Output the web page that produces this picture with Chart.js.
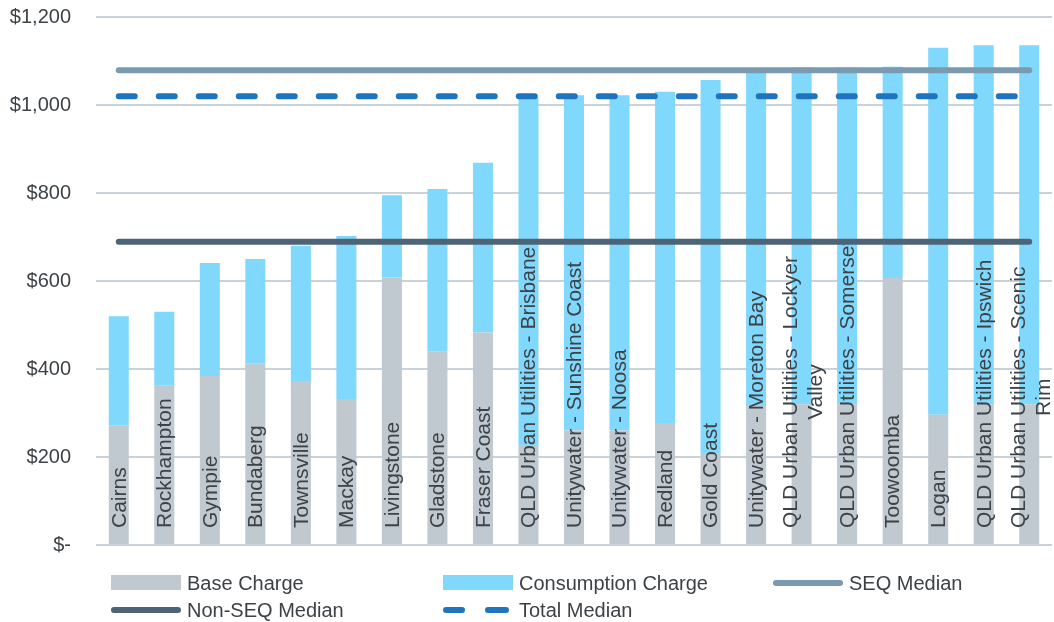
<!DOCTYPE html>
<html>
<head>
<meta charset="utf-8">
<script src="https://cdn.jsdelivr.net/npm/chart.js@4.4.1/dist/chart.umd.min.js"></script>
<style>
  html, body { margin: 0; padding: 0; background: #fff; }
  #wrap { position: relative; width: 1054px; height: 622px; }
  #legend { position: absolute; left: 0; top: 0; width: 1054px; height: 622px; pointer-events: none;
            font-family: "Liberation Sans", Arial, sans-serif; font-size: 20px; color: #3d4247; }
  .item { position: absolute; height: 24px; display: flex; align-items: center; white-space: nowrap; }
  .mk { position: relative; width: 70px; height: 24px; margin-right: 6px; }
  .box { position: absolute; left: 0; top: 4px; width: 70px; height: 15px; }
  .ln { position: absolute; left: 0; top: 9px; height: 6px; border-radius: 3px; }
</style>
</head>
<body>
<div id="wrap">
  <canvas id="chart" width="1054" height="622"></canvas>
  <div id="legend"></div>
</div>
<script>
const categories = [
  'Cairns', 'Rockhampton', 'Gympie', 'Bundaberg', 'Townsville', 'Mackay', 'Livingstone',
  'Gladstone', 'Fraser Coast', 'QLD Urban Utilities - Brisbane', 'Unitywater - Sunshine Coast',
  'Unitywater - Noosa', 'Redland', 'Gold Coast', 'Unitywater - Moreton Bay',
  ['QLD Urban Utilities - Lockyer', 'Valley'], 'QLD Urban Utilities - Somerset', 'Toowoomba',
  'Logan', 'QLD Urban Utilities - Ipswich', ['QLD Urban Utilities - Scenic', 'Rim']
];
const baseCharge        = [271, 362, 384, 413, 373, 332, 608, 439, 483, 227, 260, 260, 277, 209, 318, 320, 320, 607, 296, 320, 320];
const consumptionCharge = [249, 168, 257, 237, 307, 370, 187, 370, 386, 790, 762, 762, 753, 848, 766, 765, 765, 480, 834, 816, 816];
const seqMedian    = 1079;
const nonSeqMedian = 689;
const totalMedian  = 1020;

const colBase  = '#bfc9cf';
const colCons  = '#80d8fc';
const colSeq   = '#7a9aaf';
const colNon   = '#4d6477';
const colTotal = '#1f74bf';
const font = '"Liberation Sans", Arial, sans-serif';

// category names written up the bars
const barLabels = {
  id: 'barLabels',
  afterDatasetDraw(chart, args) {
    if (args.index !== 0) return;
    const ctx = chart.ctx, x = chart.scales.x, y = chart.scales.y;
    ctx.save();
    ctx.font = '21px ' + font;
    ctx.fillStyle = '#3d4247';
    ctx.textBaseline = 'middle';
    categories.forEach((c, i) => {
      const lines = Array.isArray(c) ? c : [c];
      const px = x.getPixelForValue(i);
      const start = y.getPixelForValue(0) - 17;
      const w = Math.max(...lines.map(l => ctx.measureText(l).width));
      ctx.save();
      ctx.translate(px, start);
      ctx.rotate(-Math.PI / 2);
      ctx.textAlign = 'center';
      lines.forEach((l, k) => {
        const off = lines.length > 1 ? -10 + k * 25 : 1;
        ctx.fillText(l, w / 2, off);
      });
      ctx.restore();
    });
    ctx.restore();
  }
};

new Chart(document.getElementById('chart'), {
  data: {
    labels: categories,
    datasets: [
      { type: 'bar', label: 'Base Charge', data: baseCharge, backgroundColor: colBase, stack: 'bill', order: 3 },
      { type: 'bar', label: 'Consumption Charge', data: consumptionCharge, backgroundColor: colCons, stack: 'bill', order: 4 },
      { type: 'line', label: 'SEQ Median', data: categories.map(() => seqMedian), stack: 'seq',
        borderColor: colSeq, borderWidth: 6, borderCapStyle: 'round', pointRadius: 0, order: 2 },
      { type: 'line', label: 'Non-SEQ Median', data: categories.map(() => nonSeqMedian), stack: 'non',
        borderColor: colNon, borderWidth: 6, borderCapStyle: 'round', pointRadius: 0, order: 1 },
      { type: 'line', label: 'Total Median', data: categories.map(() => totalMedian), stack: 'tot',
        borderColor: colTotal, borderWidth: 6, borderCapStyle: 'round', borderDash: [16, 24],
        pointRadius: 0, order: 0 }
    ]
  },
  plugins: [barLabels],
  options: {
    responsive: false,
    animation: false,
    layout: { padding: { top: 17, bottom: 77, left: 0, right: 2 } },
    datasets: { bar: { barPercentage: 0.44, categoryPercentage: 1 } },
    plugins: {
      legend: { display: false },
      tooltip: { enabled: false }
    },
    scales: {
      x: {
        stacked: true,
        display: false
      },
      y: {
        stacked: true,
        min: 0,
        max: 1200,
        afterFit: s => { s.width = 96; s.paddingTop = 0; s.paddingBottom = 0; },
        border: { display: false },
        grid: { color: '#c9d2d9', lineWidth: 2, drawTicks: false },
        ticks: {
          stepSize: 200,
          padding: 25,
          color: '#3d4247',
          font: { family: font, size: 20 },
          callback: v => v === 0 ? '$-' : '$' + v.toLocaleString('en-US')
        }
      }
    }
  }
});

// legend laid out in a grid like the original
const legendItems = [
  { label: 'Base Charge', kind: 'box', color: colBase, x: 111, y: 571 },
  { label: 'Consumption Charge', kind: 'box', color: colCons, x: 443, y: 571 },
  { label: 'SEQ Median', kind: 'line', color: colSeq, x: 773, y: 571 },
  { label: 'Non-SEQ Median', kind: 'line', color: colNon, x: 111, y: 598 },
  { label: 'Total Median', kind: 'dash', color: colTotal, x: 443, y: 598 }
];
const lg = document.getElementById('legend');
legendItems.forEach(it => {
  const d = document.createElement('div');
  d.className = 'item';
  d.style.left = it.x + 'px';
  d.style.top = it.y + 'px';
  let mk = '';
  if (it.kind === 'box') mk = `<span class="box" style="background:${it.color}"></span>`;
  if (it.kind === 'line') mk = `<span class="ln" style="width:70px;background:${it.color}"></span>`;
  if (it.kind === 'dash') mk = `<span class="ln" style="width:22px;background:${it.color}"></span>` +
                               `<span class="ln" style="left:42px;width:24px;background:${it.color}"></span>`;
  d.innerHTML = `<span class="mk">${mk}</span><span>${it.label}</span>`;
  lg.appendChild(d);
});
</script>
</body>
</html>
